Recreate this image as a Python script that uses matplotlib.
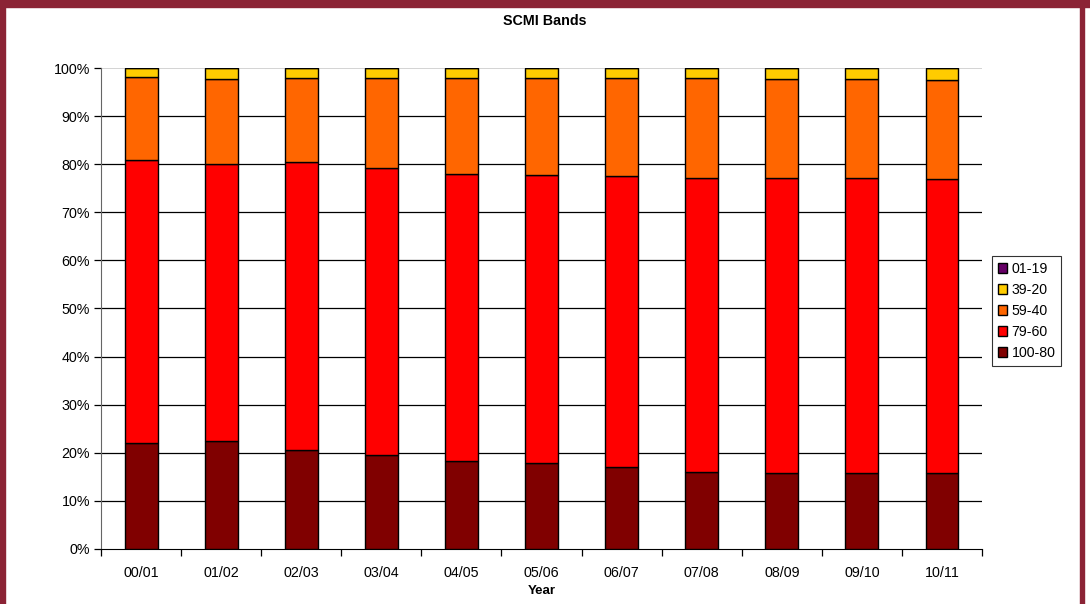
import matplotlib
matplotlib.use("Agg")
import matplotlib.pyplot as plt
from matplotlib.patches import Rectangle
from matplotlib.ticker import PercentFormatter, FixedLocator
import numpy as np

plt.rcParams['font.family'] = ['Liberation Sans', 'DejaVu Sans']

years = ["00/01", "01/02", "02/03", "03/04", "04/05", "05/06",
         "06/07", "07/08", "08/09", "09/10", "10/11"]

# share of pupils in each band, percent (bottom to top)
band_100_80 = [22.0, 22.5, 20.6, 19.5, 18.3, 17.8, 17.0, 16.0, 15.9, 15.9, 15.8]
band_79_60 = [58.8, 57.5, 59.8, 59.8, 59.7, 60.0, 60.5, 61.1, 61.2, 61.2, 61.1]
band_59_40 = [17.3, 17.8, 17.6, 18.6, 19.9, 20.1, 20.4, 20.8, 20.7, 20.7, 20.7]
band_39_20 = [1.8, 2.1, 1.9, 2.0, 2.0, 2.0, 2.0, 2.0, 2.1, 2.1, 2.3]
band_01_19 = [0.1, 0.1, 0.1, 0.1, 0.1, 0.1, 0.1, 0.1, 0.1, 0.1, 0.1]

series = [
    ("100-80", band_100_80, "#800000"),
    ("79-60", band_79_60, "#FF0000"),
    ("59-40", band_59_40, "#FF6600"),
    ("39-20", band_39_20, "#FFCC00"),
    ("01-19", band_01_19, "#660066"),
]

fig = plt.figure(figsize=(10.9, 6.04), dpi=100)
ax = fig.add_axes([0.0927, 0.0911, 0.8082, 0.7963])

x = np.arange(len(years))
bottom = np.zeros(len(years))
handles = []
for name, vals, col in series:
    vals = np.array(vals)
    b = ax.bar(x, vals, width=0.41, bottom=bottom, color=col,
               edgecolor="black", linewidth=1.0, label=name, zorder=3)
    handles.append(b)
    bottom += vals

ax.set_xlim(-0.5, len(years) - 0.5)
ax.set_ylim(0, 100)
ax.yaxis.set_major_locator(FixedLocator(np.arange(0, 101, 10)))
ax.yaxis.set_major_formatter(PercentFormatter(decimals=0))

# gridlines: black, the top one pale grey
for v in range(10, 100, 10):
    ax.axhline(v, color="black", linewidth=0.9, zorder=1)
ax.axhline(100, color="#cccccc", linewidth=1.2, zorder=1)

ax.set_xticks(x)
ax.set_xticklabels(years)
ax.tick_params(axis="x", which="major", length=0, pad=12, labelsize=10.3)
ax.set_xticks(np.arange(-0.5, len(years), 1), minor=True)
ax.tick_params(axis="x", which="minor", length=5, width=0.9, color="black")
ax.tick_params(axis="y", length=5, width=0.9, labelsize=10.3, pad=3)

for side in ["top", "right"]:
    ax.spines[side].set_visible(False)
ax.spines["left"].set_color("#666666")
ax.spines["bottom"].set_color("black")

ax.set_xlabel("Year", fontsize=9.5, fontweight="bold", labelpad=4)
fig.text(0.5, 0.966, "SCMI Bands", ha="center", va="center",
         fontsize=10.3, fontweight="bold")

leg = fig.legend(handles=handles[::-1], labels=[s[0] for s in series][::-1],
                 loc="upper left", bbox_to_anchor=(0.910, 0.576),
                 fontsize=10.2, frameon=True, fancybox=False, borderpad=0.4,
                 handlelength=0.7, handleheight=0.7, handletextpad=0.3,
                 labelspacing=0.5, borderaxespad=0)
leg.get_frame().set_edgecolor("black")
leg.get_frame().set_linewidth(0.8)

# maroon frame around the chart
W, H = 1090.0, 604.0
frame = "#8B2335"
fig.patches.append(Rectangle((0, 1 - 7 / H), 1, 7 / H, transform=fig.transFigure,
                             color=frame, zorder=0))
fig.patches.append(Rectangle((0, 0), 5 / W, 1, transform=fig.transFigure,
                             color=frame, zorder=0))
fig.patches.append(Rectangle((1080 / W, 0), 4 / W, 1, transform=fig.transFigure,
                             color=frame, zorder=0))

fig.savefig("out.png", dpi=100)
